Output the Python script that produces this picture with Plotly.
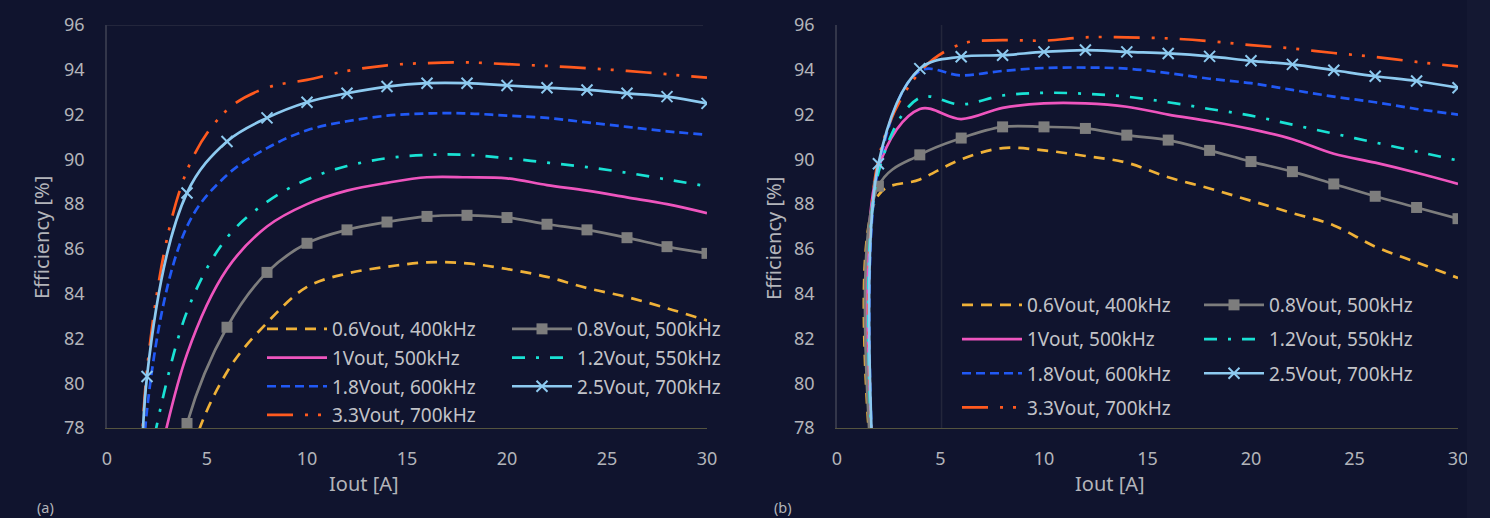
import plotly.graph_objects as go

# ---------------- (a) efficiency vs. output current ----------------
a_06_x = [2, 4, 6, 8, 10, 12, 14, 16, 18, 20, 22, 24, 26, 28, 30]
a_06_y = [62.0, 76.2, 80.5, 82.7, 84.3, 84.9, 85.2, 85.4, 85.35, 85.1, 84.75, 84.25, 83.85, 83.35, 82.8]

a_08_x = [2, 4, 6, 8, 10, 12, 14, 16, 18, 20, 22, 24, 26, 28, 30]
a_08_y = [68.0, 78.2, 82.5, 84.95, 86.25, 86.85, 87.2, 87.45, 87.5, 87.4, 87.1, 86.85, 86.5, 86.1, 85.8]

a_10_x = [2, 4, 6, 8, 10, 12, 14, 16, 18, 20, 22, 24, 26, 28, 30]
a_10_y = [74.0, 81.3, 85.1, 87.0, 88.0, 88.6, 88.95, 89.2, 89.2, 89.15, 88.85, 88.6, 88.3, 88.0, 87.6]

a_12_x = [2, 4, 6, 8, 10, 12, 14, 16, 18, 20, 22, 24, 26, 28, 30]
a_12_y = [76.0, 83.2, 86.5, 88.1, 89.1, 89.7, 90.05, 90.2, 90.2, 90.05, 89.85, 89.65, 89.4, 89.1, 88.8]

a_18_x = [1.9, 2, 4, 6, 8, 10, 12, 14, 16, 18, 20, 22, 24, 26, 28, 30]
a_18_y = [66.0, 78.8, 87.0, 89.3, 90.5, 91.3, 91.7, 91.95, 92.05, 92.05, 91.95, 91.85, 91.65, 91.45, 91.25, 91.1]

a_25_x = [1.85, 2, 4, 6, 8, 10, 12, 14, 16, 18, 20, 22, 24, 26, 28, 30]
a_25_y = [64.0, 80.3, 88.5, 90.8, 91.85, 92.55, 92.95, 93.25, 93.4, 93.4, 93.3, 93.2, 93.1, 92.95, 92.8, 92.5]

a_33_x = [1.75, 2, 4, 6, 8, 10, 12, 14, 16, 18, 20, 22, 24, 26, 28, 30]
a_33_y = [64.0, 80.6, 89.5, 92.2, 93.2, 93.55, 93.95, 94.2, 94.3, 94.33, 94.25, 94.17, 94.07, 93.95, 93.8, 93.65]

# ---------------- (b) efficiency vs. output current ----------------
b_x = [1.85, 2, 4, 6, 8, 10, 12, 14, 16, 18, 20, 22, 24, 26, 28, 30]
b_06_y = [74.0, 88.4, 89.1, 90.0, 90.5, 90.4, 90.15, 89.85, 89.2, 88.7, 88.15, 87.6, 87.05, 86.1, 85.4, 84.7]
b_08_y = [74.0, 88.8, 90.2, 90.95, 91.45, 91.45, 91.38, 91.08, 90.86, 90.4, 89.9, 89.45, 88.9, 88.35, 87.85, 87.35]
b_10_y = [74.0, 89.6, 92.25, 91.8, 92.3, 92.5, 92.5, 92.35, 92.0, 91.7, 91.35, 90.9, 90.25, 89.85, 89.4, 88.9]
b_12_y = [74.0, 89.4, 92.75, 92.45, 92.85, 92.97, 92.93, 92.8, 92.55, 92.25, 91.95, 91.55, 91.15, 90.75, 90.35, 89.95]
b_18_y = [74.0, 89.6, 93.95, 93.75, 93.95, 94.08, 94.1, 94.05, 93.85, 93.6, 93.4, 93.1, 92.8, 92.55, 92.25, 92.0]
b_25_y = [74.0, 89.8, 94.05, 94.58, 94.65, 94.8, 94.88, 94.8, 94.73, 94.6, 94.4, 94.24, 93.98, 93.71, 93.5, 93.2]
b_33_y = [74.0, 90.0, 93.9, 95.15, 95.32, 95.3, 95.45, 95.45, 95.4, 95.28, 95.1, 94.95, 94.75, 94.57, 94.35, 94.15]

x_ticks = [0, 5, 10, 15, 20, 25, 30]
y_ticks = [78, 80, 82, 84, 86, 88, 90, 92, 94, 96]

BG = "#10142e"
TXT = "#b3b4ba"
FONT = "Noto Sans"

# name -> colour, dash pattern, marker symbol
STYLE = {
    "0.6Vout, 400kHz": ("#EFB138", "11px,8px", None),
    "0.8Vout, 500kHz": ("#7d7d7d", "solid", "square"),
    "1Vout, 500kHz": ("#EE55BE", "solid", None),
    "1.2Vout, 550kHz": ("#19E2D4", "13px,11px,3px,11px", None),
    "1.8Vout, 600kHz": ("#2159F5", "9px,5px", None),
    "2.5Vout, 700kHz": ("#8DCAF0", "solid", "x-thin"),
    "3.3Vout, 700kHz": ("#FF5A1F", "26px,12px,3px,10px,3px,12px", None),
}

fig = go.Figure()


def add_series(name, xs, ys, xa, ya, legend):
    color, dash, symbol = STYLE[name]
    kw = dict(mode="lines")
    if symbol == "square":
        kw = dict(mode="lines+markers",
                  marker=dict(symbol="square", size=11, color=color))
    elif symbol == "x-thin":
        kw = dict(mode="lines+markers",
                  marker=dict(symbol="x-thin", size=11, color=color,
                              line=dict(color=color, width=2)))
    fig.add_trace(go.Scatter(
        x=xs, y=ys, name=name, xaxis=xa, yaxis=ya,
        legend=legend, legendgroup=name + xa,
        line=dict(color=color, width=2.7, dash=dash,
                  shape="spline", smoothing=1.0),
        **kw))


series_a = [
    ("0.6Vout, 400kHz", a_06_x, a_06_y, "legend"),
    ("1Vout, 500kHz", a_10_x, a_10_y, "legend"),
    ("1.8Vout, 600kHz", a_18_x, a_18_y, "legend"),
    ("3.3Vout, 700kHz", a_33_x, a_33_y, "legend"),
    ("0.8Vout, 500kHz", a_08_x, a_08_y, "legend2"),
    ("1.2Vout, 550kHz", a_12_x, a_12_y, "legend2"),
    ("2.5Vout, 700kHz", a_25_x, a_25_y, "legend2"),
]
series_b = [
    ("0.6Vout, 400kHz", b_x, b_06_y, "legend3"),
    ("1Vout, 500kHz", b_x, b_10_y, "legend3"),
    ("1.8Vout, 600kHz", b_x, b_18_y, "legend3"),
    ("3.3Vout, 700kHz", b_x, b_33_y, "legend3"),
    ("0.8Vout, 500kHz", b_x, b_08_y, "legend4"),
    ("1.2Vout, 550kHz", b_x, b_12_y, "legend4"),
    ("2.5Vout, 700kHz", b_x, b_25_y, "legend4"),
]
for series, xa, ya in ((series_a, "x", "y"), (series_b, "x2", "y2")):
    for name, xs, ys, lg in series:
        add_series(name, xs, ys, xa, ya, lg)

W, H = 1490, 518


def xax(domain, anchor):
    return dict(domain=domain, range=[0, 30], tickvals=x_ticks, showgrid=False,
                zeroline=False, showline=True, linecolor="#55543f", linewidth=1,
                ticks="", ticklabelstandoff=14, automargin=False, anchor=anchor,
                tickfont=dict(family=FONT, size=18, color=TXT))


def yax(domain, anchor):
    return dict(domain=domain, range=[78, 96], tickvals=y_ticks, showgrid=False,
                zeroline=False, showline=True, linecolor="#33364a", linewidth=1.5,
                ticks="", ticklabelstandoff=17, automargin=False, anchor=anchor,
                tickfont=dict(family=FONT, size=18, color=TXT))


ydom = [1 - 428 / H, 1 - 25 / H]


def legend_at(xpx, ypx, gap):
    return dict(x=xpx / W, y=1 - ypx / H, xanchor="left", yanchor="top",
                bgcolor="rgba(0,0,0,0)", itemwidth=60, tracegroupgap=gap,
                font=dict(family=FONT, size=19, color="#c2c3c8"),
                traceorder="grouped", itemclick=False)


def text(s, xpx, ypx, size, angle=0, anchor="center"):
    return dict(text=s, x=xpx / W, y=1 - ypx / H, xref="paper", yref="paper",
                xanchor=anchor, yanchor="middle", showarrow=False, textangle=angle,
                font=dict(family=FONT, size=size, color=TXT))


fig.update_layout(
    width=W, height=H, margin=dict(l=0, r=0, t=0, b=0),
    paper_bgcolor=BG, plot_bgcolor=BG,
    xaxis=xax([107 / W, 707 / W], "y"), yaxis=yax(ydom, "x"),
    xaxis2=xax([837 / W, 1458 / W], "y2"), yaxis2=yax(ydom, "x2"),
    legend=legend_at(262, 310, 1),
    legend2=legend_at(507, 310, 1),
    legend3=legend_at(957, 286, 6.5),
    legend4=legend_at(1199, 286, 6.5),
    shapes=[
        dict(type="line", xref="x", yref="y", x0=0, x1=29.8, y0=96, y1=96,
             line=dict(color="#2a2d42", width=1.5), layer="below"),
        dict(type="line", xref="x2", yref="y2", x0=5.05, x1=5.05, y0=78, y1=96,
             line=dict(color="#23263b", width=1.5), layer="below"),
        dict(type="rect", xref="paper", yref="paper", x0=1467 / W, x1=1, y0=0, y1=1,
             fillcolor="#141832", line=dict(width=0), layer="above"),
    ],
    annotations=[
        text("Iout [A]", 364, 483, 20),
        text("Iout [A]", 1110, 483, 20),
        text("Efficiency [%]", 42, 238, 20, angle=-90),
        text("Efficiency [%]", 773, 239, 20, angle=-90),
        text("(a)", 35, 507, 14.5, anchor="left"),
        text("(b)", 772, 507, 14.5, anchor="left"),
    ],
    showlegend=True,
)

fig.write_html("out.html")
